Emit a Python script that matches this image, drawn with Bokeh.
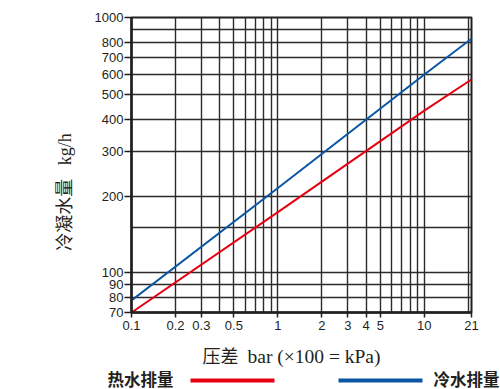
import math
from bokeh.plotting import figure
from bokeh.models import Range1d, FixedTicker, CustomJSTickFormatter
from bokeh.core.properties import value
from bokeh.embed import file_html
from bokeh.resources import INLINE

# ---- data ----
pressure = [0.1, 1, 10, 21]                 # bar
hot_water = [70, 173, 432, 572]             # kg/h
cold_water = [78, 215, 598, 826]            # kg/h

x_ticks = [0.1, 0.2, 0.3, 0.5, 1, 2, 3, 4, 5, 10, 21]
x_grid = [0.2, 0.3, 0.4, 0.5, 0.6, 0.7, 0.8, 0.9, 1, 2, 3, 4, 5, 6, 7, 8, 9, 10, 20]
y_ticks = [70, 80, 90, 100, 200, 300, 400, 500, 600, 700, 800, 1000]
y_grid = [80, 90, 100, 150, 200, 300, 400, 500, 600, 700, 800, 900]

x_label_cn = "压差"
x_label_unit = "bar (×100 = kPa)"
y_label = "冷凝水量\u00a0\u00a0\u00a0kg/h"
hot_label = "热水排量"
cold_label = "冷水排量"

RED = "#e60012"
BLUE = "#0a56a5"
INK = "#231f20"
SERIF = "'Liberation Serif', 'Noto Sans CJK SC'"
CJK = "'Noto Sans CJK SC'"
EM = "\u2003"

W = 500
H1 = 340
H2 = 49
L, T, R, B = 131, 17, 29, 28

p = figure(width=W, height=H1, x_axis_type="log", y_axis_type="log",
           x_range=Range1d(0.1, 21), y_range=Range1d(70, 1000),
           output_backend="svg", toolbar_location=None,
           min_border_left=L, min_border_top=T, min_border_right=R, min_border_bottom=B)
p.background_fill_color = "white"
p.border_fill_color = "white"
p.outline_line_color = INK
p.outline_line_width = 2

fmt = CustomJSTickFormatter(code="return tick.toString();")
for ax, ticks in ((p.xaxis[0], x_ticks), (p.yaxis[0], y_ticks)):
    ax.ticker = FixedTicker(ticks=ticks, minor_ticks=[])
    ax.formatter = fmt
    ax.axis_line_width = 2.5
    ax.axis_line_color = INK
    ax.major_tick_line_color = INK
    ax.major_tick_line_width = 1.5
    ax.major_tick_in = 0
    ax.minor_tick_line_color = None
    ax.major_label_text_font = "Liberation Sans"
    ax.major_label_text_font_size = "13px"
    ax.major_label_text_color = INK
    ax.axis_label_text_font = SERIF
    ax.axis_label_text_font_style = "normal"
    ax.axis_label_text_color = INK
p.xaxis.major_tick_out = 5
p.xaxis.major_label_standoff = 3
p.yaxis.major_tick_out = 7
p.yaxis.major_label_standoff = 1
p.yaxis.axis_label = y_label + EM * 3
p.yaxis.axis_label_text_font_size = "18px"
p.yaxis.axis_label_standoff = 17

p.xgrid.ticker = FixedTicker(ticks=x_grid, minor_ticks=[])
p.ygrid.ticker = FixedTicker(ticks=y_grid, minor_ticks=[])
for g in (p.xgrid, p.ygrid):
    g.grid_line_color = "#2e2a2a"
    g.grid_line_width = 1.4
    g.grid_line_alpha = 1

p.line(pressure, hot_water, line_color=RED, line_width=2)
p.line(pressure, cold_water, line_color=BLUE, line_width=2)

# x-axis title + legend row
q = figure(width=W, height=H2, x_range=Range1d(0, W), y_range=Range1d(H2, 0),
           output_backend="svg", toolbar_location=None,
           min_border_left=0, min_border_right=0, min_border_top=0, min_border_bottom=0)
q.axis.visible = False
q.grid.visible = False
q.outline_line_color = None
q.background_fill_color = "white"
q.border_fill_color = "white"
q.text(x=[202], y=[16], text=[x_label_cn], text_font=value(SERIF), text_font_size="18px",
       text_color=INK, text_align="left", text_baseline="middle")
q.text(x=[247], y=[16], text=[x_label_unit], text_font=value(SERIF), text_font_size="19.5px",
       text_color=INK, text_align="left", text_baseline="middle")
q.segment(x0=[190], y0=[40], x1=[274], y1=[40], line_color=RED, line_width=4)
q.segment(x0=[338], y0=[40], x1=[422], y1=[40], line_color=BLUE, line_width=4)
q.text(x=[107], y=[38], text=[hot_label], text_font=value(CJK), text_font_size="16.5px",
       text_font_style="bold", text_color=INK, text_align="left", text_baseline="middle")
q.text(x=[433], y=[38], text=[cold_label], text_font=value(CJK), text_font_size="16.5px",
       text_font_style="bold", text_color=INK, text_align="left", text_baseline="middle")

open("out.html", "w").write(file_html([p, q], INLINE))
